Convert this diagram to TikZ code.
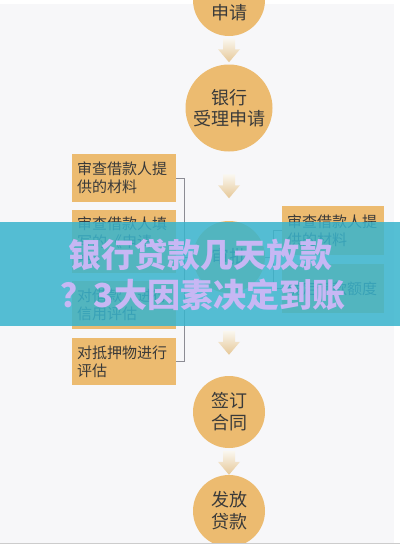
\documentclass[tikz,border=0pt]{standalone}
\usepackage{fontspec}
\setmainfont{Noto Sans CJK SC}
\usetikzlibrary{calc}
\definecolor{bg}{HTML}{F7F7F9}
\definecolor{tan}{HTML}{ECBB70}
\definecolor{txt}{HTML}{3A3A3A}
\definecolor{band}{HTML}{38B4CD}
\definecolor{ttl}{HTML}{C7B7F4}
\definecolor{brk}{HTML}{8C8C94}
\definecolor{arrtop}{HTML}{FAF7F0}
\definecolor{arrbot}{HTML}{E6C897}
\tikzset{
  stage/.style={circle, fill=tan, minimum size=72pt, inner sep=0pt, text=txt,
    font=\fontsize{18}{22}\selectfont, align=center},
  bigstage/.style={stage, minimum size=87pt, font=\fontsize{18}{21}\selectfont},
  infobox/.style={rectangle, fill=tan, anchor=north west, text width=94pt,
    inner xsep=5pt, inner ysep=0pt, align=left, text=txt,
    font=\fontsize{15}{18}\selectfont},
  bracket/.style={draw=brk, line width=0.8pt},
  titletext/.style={text=ttl, font=\fontsize{33}{40}\selectfont\bfseries},
  downarr/.pic={\shade[top color=arrtop, bottom color=arrbot]
    (-6,-12) -- (6,-12) -- (6,-1) -- (11,-1) -- (0,12) -- (-11,-1) -- (-6,-1) -- cycle;}
}
\begin{document}
\begin{tikzpicture}[x=1pt, y=-1pt]
\useasboundingbox (0,0) rectangle (400,546);
\fill[white] (0,0) rectangle (400,546);
\fill[bg] (0,4) rectangle (394,543);

% stages
\node[stage] (c1) at (229,0) {};
\node[text=txt, font=\fontsize{18}{22}\selectfont] (c1t) at (229,13) {申请};
\node[bigstage] (c2) at (229,108) {银行\\受理申请};
\node[stage] (c3) at (229,257) {审批};
\node[stage] (c4) at (229,412) {签订\\合同};
\node[stage] (c5) at (229,511) {发放\\贷款};

% left boxes
\node[infobox, minimum height=48pt] (b1) at (72,154) {审查借款人提\\供的材料};
\node[infobox, minimum height=63pt] (b2) at (72,210) {审查借款人填\\写的《申请\\书》};
\node[infobox, minimum height=48pt] (b3) at (72,281) {对借款人进行\\信用评估};
\node[infobox, minimum height=47pt] (b4) at (72,338) {对抵押物进行\\评估};

% right boxes
\node[infobox, minimum height=49pt, text width=92pt] (r1) at (282,206) {审查借款人提\\供的材料};
\node[infobox, minimum height=49pt, text width=92pt] (r2) at (282,264) {确定借款额度};

% brackets
\coordinate (lb) at ($(c3.west)+(-8,0)$);
\coordinate (rb) at ($(c3.east)+(8,0)$);
\draw[bracket] (b1.east) -| (lb) |- (b4.east);
\draw[bracket] (lb) -- (c3.west);
\draw[bracket] (r1.west) -| (rb) |- (r2.west);
\draw[bracket] (c3.east) -- (rb);

% arrows
\pic at ($(c1.south)!0.5!(c2.north)$) {downarr};
\pic at ($(c2.south)!0.5!(c3.north)$) {downarr};
\pic at ($(c3.south)!0.6!(c4.north)$) {downarr};
\pic at ($(c4.south)!0.55!(c5.north)$) {downarr};

% banner
\fill[band, opacity=0.85] (0,222) rectangle (400,326);
\node[titletext] (t1) at (200,255) {银行贷款几天放款};
\node[titletext] (t2) at (203,295) {？3大因素决定到账};

\fill[white] (0,543.5) rectangle (400,546);
\draw[gray!40, line width=0.6pt] (0,543.5) -- (400,543.5);
\end{tikzpicture}
\end{document}
